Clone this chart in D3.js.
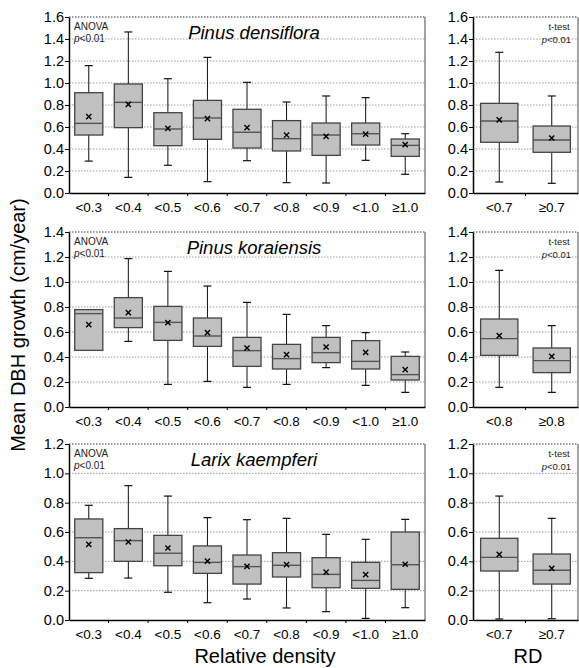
<!DOCTYPE html>
<html>
<head>
<meta charset="utf-8">
<script src="https://cdn.jsdelivr.net/npm/d3@7"></script>
<style>
  body { margin: 0; background: #fff; }
  svg text { font-family: "Liberation Sans", Arial, sans-serif; }
  .grid line { stroke: #999; stroke-dasharray: 1.5,1.5; }
</style>
</head>
<body>
<svg width="579" height="668"></svg>
<script>
// categories
var rdCats = ["<0.3", "<0.4", "<0.5", "<0.6", "<0.7", "<0.8", "<0.9", "<1.0", "≥1.0"];
var pdSplit = ["<0.7", "≥0.7"];
var pkSplit = ["<0.8", "≥0.8"];
var lkSplit = ["<0.7", "≥0.7"];

// rows: [low, q1, median, q3, high, mean]
var pdByRD = [
  [0.29, 0.527, 0.633, 0.912, 1.158, 0.694],
  [0.142, 0.594, 0.824, 0.991, 1.464, 0.806],
  [0.252, 0.430, 0.582, 0.730, 1.039, 0.588],
  [0.103, 0.488, 0.682, 0.842, 1.233, 0.676],
  [0.294, 0.409, 0.552, 0.761, 1.006, 0.594],
  [0.094, 0.382, 0.494, 0.658, 0.827, 0.527],
  [0.091, 0.342, 0.527, 0.636, 0.882, 0.515],
  [0.297, 0.436, 0.539, 0.636, 0.867, 0.536],
  [0.170, 0.333, 0.433, 0.491, 0.539, 0.439]
];
var pdTest = [
  [0.10, 0.461, 0.655, 0.815, 1.279, 0.664],
  [0.088, 0.370, 0.482, 0.609, 0.882, 0.50]
];
var pkByRD = [
  [0.453, 0.453, 0.747, 0.779, 0.779, 0.659],
  [0.525, 0.635, 0.712, 0.875, 1.187, 0.755],
  [0.181, 0.533, 0.677, 0.805, 1.085, 0.675],
  [0.205, 0.485, 0.568, 0.712, 0.968, 0.595],
  [0.157, 0.325, 0.451, 0.557, 0.837, 0.472],
  [0.181, 0.304, 0.387, 0.501, 0.741, 0.419],
  [0.315, 0.355, 0.435, 0.557, 0.651, 0.48],
  [0.173, 0.304, 0.365, 0.531, 0.595, 0.437],
  [0.117, 0.216, 0.259, 0.405, 0.44, 0.299]
];
var pkTest = [
  [0.157, 0.413, 0.547, 0.704, 1.093, 0.571],
  [0.117, 0.275, 0.371, 0.472, 0.651, 0.405]
];
var lkByRD = [
  [0.284, 0.323, 0.561, 0.689, 0.782, 0.516],
  [0.286, 0.40, 0.541, 0.623, 0.916, 0.532],
  [0.189, 0.370, 0.455, 0.577, 0.845, 0.491],
  [0.118, 0.318, 0.393, 0.505, 0.698, 0.402],
  [0.143, 0.245, 0.364, 0.443, 0.684, 0.366],
  [0.082, 0.293, 0.373, 0.459, 0.693, 0.377],
  [0.057, 0.220, 0.311, 0.425, 0.584, 0.327],
  [0.011, 0.216, 0.270, 0.393, 0.55, 0.309],
  [0.084, 0.209, 0.377, 0.60, 0.686, 0.38]
];
var lkTest = [
  [0.007, 0.334, 0.427, 0.557, 0.845, 0.448],
  [0.009, 0.245, 0.339, 0.45, 0.693, 0.352]
];

var species = ["Pinus densiflora", "Pinus koraiensis", "Larix kaempferi"];
var yMax = [1.6, 1.4, 1.2];

var svg = d3.select("svg");
var FONT = "'Liberation Sans', Arial, sans-serif";

var rows = [
  {bottom: 193, top: 17, left: pdByRD, right: pdTest, rightCats: pdSplit},
  {bottom: 407, top: 232, left: pkByRD, right: pkTest, rightCats: pkSplit},
  {bottom: 620, top: 444, left: lkByRD, right: lkTest, rightCats: lkSplit}
];

function panel(x0, x1, y0, y1, max, cats, data) {
  var x = d3.scaleBand().domain(cats).range([x0, x1]);
  var y = d3.scaleLinear().domain([0, max]).range([y0, y1]);
  var g = svg.append("g");
  var bw = x.bandwidth() * 0.71;

  // grid
  g.append("g").attr("class", "grid")
    .selectAll("line").data(d3.range(0.2, max - 0.01, 0.2)).enter().append("line")
      .attr("x1", x0).attr("x2", x1)
      .attr("y1", function(d) { return y(d); }).attr("y2", function(d) { return y(d); });

  // frame top (dotted) and right
  g.append("line").attr("x1", x0).attr("x2", x1).attr("y1", y1).attr("y2", y1)
    .attr("stroke", "#333").attr("stroke-dasharray", "1.5,1.5");
  g.append("line").attr("x1", x1).attr("x2", x1).attr("y1", y1).attr("y2", y0)
    .attr("stroke", "#666").attr("stroke-width", 1.2);

  var box = g.selectAll(".box").data(data).enter().append("g")
    .attr("transform", function(d, i) { return "translate(" + (x(cats[i]) + x.bandwidth() / 2) + ",0)"; });

  box.append("line")
    .attr("y1", function(d) { return y(d[0]); }).attr("y2", function(d) { return y(d[4]); })
    .attr("stroke", "#111").attr("stroke-width", 1);
  box.append("line").attr("x1", -4).attr("x2", 4)
    .attr("y1", function(d) { return y(d[4]); }).attr("y2", function(d) { return y(d[4]); })
    .attr("stroke", "#111").attr("stroke-width", 1.2);
  box.append("line").attr("x1", -4).attr("x2", 4)
    .attr("y1", function(d) { return y(d[0]); }).attr("y2", function(d) { return y(d[0]); })
    .attr("stroke", "#111").attr("stroke-width", 1.2);
  box.append("rect")
    .attr("x", -bw / 2).attr("width", bw)
    .attr("y", function(d) { return y(d[3]); })
    .attr("height", function(d) { return y(d[1]) - y(d[3]); })
    .attr("fill", "#c0c0c0").attr("stroke", "#444").attr("stroke-width", 1.3);
  box.append("line").attr("x1", -bw / 2).attr("x2", bw / 2)
    .attr("y1", function(d) { return y(d[2]); }).attr("y2", function(d) { return y(d[2]); })
    .attr("stroke", "#555").attr("stroke-width", 1.4);
  box.append("path")
    .attr("d", function(d) {
      var m = y(d[5]), s = 2.6;
      return "M" + (-s) + "," + (m - s) + "L" + s + "," + (m + s) + "M" + s + "," + (m - s) + "L" + (-s) + "," + (m + s);
    })
    .attr("stroke", "#000").attr("stroke-width", 1.4);

  // y axis
  var ya = g.append("g").attr("transform", "translate(" + x0 + ",0)")
    .call(d3.axisLeft(y).tickValues(d3.range(0, max + 0.01, 0.2)).tickFormat(d3.format(".1f")).tickSize(4).tickSizeOuter(0));
  ya.select(".domain").attr("stroke-width", 1.5);
  ya.selectAll("text").attr("font-size", 14.5).attr("fill", "#000").attr("font-family", FONT).attr("x", -5);

  // x axis
  var xa = g.append("g").attr("transform", "translate(0," + y0 + ")")
    .call(d3.axisBottom(x).tickSize(0).tickPadding(9));
  xa.select(".domain").attr("stroke-width", 1.5);
  xa.selectAll("text").attr("font-size", 13.5).attr("fill", "#000").attr("font-family", FONT);
  g.append("g").selectAll("line").data(cats.slice(1)).enter().append("line")
    .attr("x1", function(d) { return x(d); }).attr("x2", function(d) { return x(d); })
    .attr("y1", y0).attr("y2", y0 + 3).attr("stroke", "#000");

  return g;
}

rows.forEach(function(r, i) {
  var gl = panel(69, 425, r.bottom, r.top, yMax[i], rdCats, r.left);
  gl.append("text").attr("x", 74).attr("y", r.top + 13).attr("font-size", 10).attr("fill", "#222").text("ANOVA");
  gl.append("text").attr("x", 74).attr("y", r.top + 25).attr("font-size", 10).attr("fill", "#222")
    .html("<tspan font-style='italic'>p</tspan>&lt;0.01");
  gl.append("text").attr("x", 254).attr("y", r.top + 22).attr("text-anchor", "middle")
    .attr("font-size", 18.5).attr("font-style", "italic").text(species[i]);

  var gr = panel(473, 578, r.bottom, r.top, yMax[i], r.rightCats, r.right);
  gr.append("text").attr("x", 559).attr("y", r.top + 13).attr("text-anchor", "middle").attr("font-size", 9.5).attr("fill", "#222").text("t-test");
  gr.append("text").attr("x", 571).attr("y", r.top + 26).attr("text-anchor", "end").attr("font-size", 9.5).attr("fill", "#222")
    .html("<tspan font-style='italic'>p</tspan>&lt;0.01");
});

svg.append("text").attr("transform", "translate(25,325) rotate(-90)").attr("text-anchor", "middle")
  .attr("font-size", 20).text("Mean DBH growth (cm/year)");
svg.append("text").attr("x", 265).attr("y", 663).attr("text-anchor", "middle").attr("font-size", 20).text("Relative density");
svg.append("text").attr("x", 528).attr("y", 663).attr("text-anchor", "middle").attr("font-size", 20).text("RD");
</script>
</body>
</html>
